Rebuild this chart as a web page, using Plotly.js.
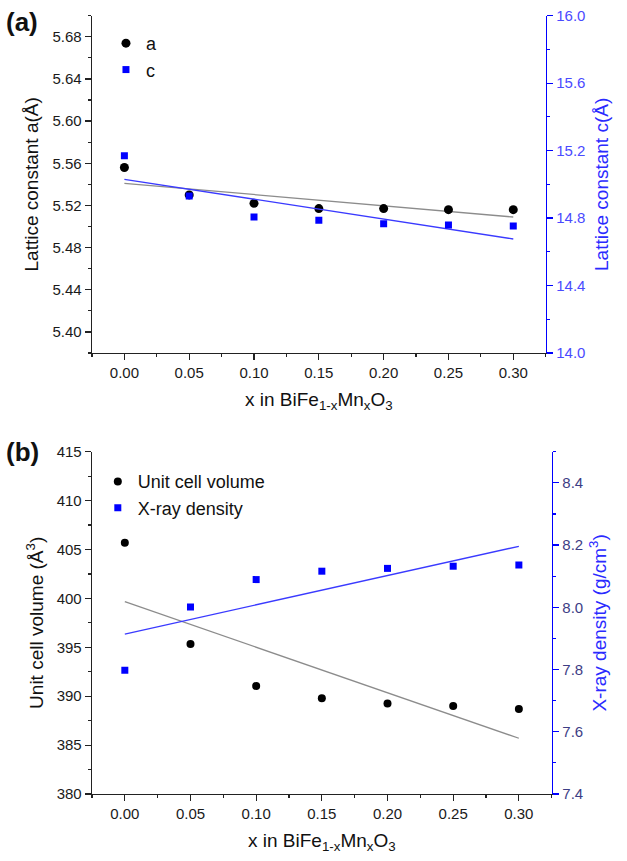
<!DOCTYPE html>
<html>
<head>
<meta charset="utf-8">
<script src="https://cdn.plot.ly/plotly-3.0.1.min.js"></script>
<style>html,body{margin:0;padding:0;background:#fff;}#chart{width:627px;height:861px;}</style>
</head>
<body>
<div id="chart"></div>
<script>
// ---- data ----
const xMn = [0.00, 0.05, 0.10, 0.15, 0.20, 0.25, 0.30];
const latticeA = [5.556, 5.530, 5.522, 5.517, 5.517, 5.516, 5.516];
const latticeC = [15.17, 14.931, 14.806, 14.787, 14.767, 14.759, 14.753];
const cellVolume = [405.7, 395.35, 391.04, 389.8, 389.26, 389.0, 388.7];
const xrayDensity = [7.798, 8.001, 8.089, 8.116, 8.125, 8.132, 8.136];
// linear-fit lines (end points)
const fitX = [0.00, 0.30];
const fitA = [5.541, 5.509];
const fitC = [15.03, 14.676];
const fitV = [399.66, 385.7];
const fitD = [7.914, 8.196];

const FONT = 'Liberation Sans, Arial, sans-serif';
const BLUE = '#0000ff';
const xTitle = 'x in BiFe<sub>1-x</sub>Mn<sub>x</sub>O<sub>3</sub>';

const traces = [
  {x: fitX, y: fitA, xaxis: 'x', yaxis: 'y', mode: 'lines', line: {color: '#8c8c8c', width: 1.3}, showlegend: false, hoverinfo: 'skip'},
  {x: fitX, y: fitC, xaxis: 'x', yaxis: 'y2', mode: 'lines', line: {color: '#3a3aff', width: 1.3}, showlegend: false, hoverinfo: 'skip'},
  {x: xMn, y: latticeA, xaxis: 'x', yaxis: 'y', mode: 'markers', name: 'a', legend: 'legend',
   marker: {symbol: 'circle', size: 9, color: '#000'}},
  {x: xMn, y: latticeC, xaxis: 'x', yaxis: 'y2', mode: 'markers', name: 'c', legend: 'legend',
   marker: {symbol: 'square', size: 7, color: BLUE}},

  {x: fitX, y: fitV, xaxis: 'x2', yaxis: 'y3', mode: 'lines', line: {color: '#8c8c8c', width: 1.3}, showlegend: false, hoverinfo: 'skip'},
  {x: fitX, y: fitD, xaxis: 'x2', yaxis: 'y4', mode: 'lines', line: {color: '#3a3aff', width: 1.3}, showlegend: false, hoverinfo: 'skip'},
  {x: xMn, y: cellVolume, xaxis: 'x2', yaxis: 'y3', mode: 'markers', name: 'Unit cell volume', legend: 'legend2',
   marker: {symbol: 'circle', size: 8, color: '#000'}},
  {x: xMn, y: xrayDensity, xaxis: 'x2', yaxis: 'y4', mode: 'markers', name: 'X-ray density', legend: 'legend2',
   marker: {symbol: 'square', size: 7, color: BLUE}}
];

const tickFont = {family: FONT, size: 15, color: '#1a1a1a'};
const titleFont = {family: FONT, size: 19, color: '#111'};

function xAx(domain, anchor) {
  return {
    domain: domain, anchor: anchor, range: [-0.025, 0.325],
    tickvals: [0, 0.05, 0.10, 0.15, 0.20, 0.25, 0.30],
    ticktext: ['0.00', '0.05', '0.10', '0.15', '0.20', '0.25', '0.30'],
    ticks: 'outside', ticklen: 6, tickwidth: 1.2, tickcolor: '#222',
    minor: {dtick: 0.025, tick0: 0, ticks: 'outside', ticklen: 3, tickwidth: 1.2, tickcolor: '#222'},
    showline: true, linecolor: '#222', linewidth: 1.3, showgrid: false, zeroline: false,
    tickfont: tickFont, title: {text: xTitle, font: titleFont, standoff: 12}
  };
}
function xTop(overlay, anchor) {
  return {
    overlaying: overlay, anchor: anchor, side: 'top', range: [-0.025, 0.325],
    tickvals: [0, 0.05, 0.10, 0.15, 0.20, 0.25, 0.30],
    ticks: 'inside', ticklen: 6, tickwidth: 1.2, tickcolor: '#222', showticklabels: false,
    minor: {dtick: 0.025, tick0: 0, ticks: 'inside', ticklen: 3, tickwidth: 1.2, tickcolor: '#222'},
    showline: true, linecolor: '#444', linewidth: 1.3, showgrid: false, zeroline: false
  };
}

const layout = {
  width: 627, height: 861,
  margin: {l: 0, r: 0, t: 0, b: 0},
  paper_bgcolor: '#fff', plot_bgcolor: '#fff',
  font: {family: FONT},
  xaxis: xAx([0.1467, 0.8703], 'y'),
  xaxis3: xTop('x', 'y'),
  yaxis: {
    domain: [0.590, 0.9818], anchor: 'x', range: [5.38, 5.70],
    tickvals: [5.40, 5.44, 5.48, 5.52, 5.56, 5.60, 5.64, 5.68],
    ticktext: ['5.40', '5.44', '5.48', '5.52', '5.56', '5.60', '5.64', '5.68'],
    ticks: 'outside', ticklen: 6, tickwidth: 1.2, tickcolor: '#222',
    minor: {dtick: 0.02, tick0: 5.40, ticks: 'outside', ticklen: 3, tickwidth: 1.2, tickcolor: '#222'},
    showline: true, linecolor: '#222', linewidth: 1.3, showgrid: false, zeroline: false,
    tickfont: tickFont, title: {text: 'Lattice constant a(Å)', font: titleFont, standoff: 8}
  },
  yaxis2: {
    overlaying: 'y', anchor: 'x', side: 'right', range: [14.0, 16.0],
    tickvals: [14.0, 14.4, 14.8, 15.2, 15.6, 16.0],
    ticktext: ['14.0', '14.4', '14.8', '15.2', '15.6', '16.0'],
    ticks: 'outside', ticklen: 6, tickwidth: 1.2, tickcolor: BLUE,
    minor: {dtick: 0.2, tick0: 14.0, ticks: 'outside', ticklen: 3, tickwidth: 1.2, tickcolor: BLUE},
    showline: true, linecolor: BLUE, linewidth: 1.6, showgrid: false, zeroline: false,
    tickfont: {family: FONT, size: 15, color: '#4a4aff'},
    title: {text: 'Lattice constant c(Å)', font: {family: FONT, size: 19, color: '#2a2aff'}, standoff: 10}
  },

  xaxis2: xAx([0.1467, 0.8799], 'y3'),
  xaxis4: xTop('x2', 'y3'),
  yaxis3: {
    domain: [0.0778, 0.4754], anchor: 'x2', range: [380, 415],
    tickvals: [380, 385, 390, 395, 400, 405, 410, 415],
    ticks: 'outside', ticklen: 6, tickwidth: 1.2, tickcolor: '#222',
    minor: {dtick: 2.5, tick0: 380, ticks: 'outside', ticklen: 3, tickwidth: 1.2, tickcolor: '#222'},
    showline: true, linecolor: '#222', linewidth: 1.3, showgrid: false, zeroline: false,
    tickfont: tickFont, title: {text: 'Unit cell volume (Å<sup>3</sup>)', font: titleFont, standoff: 8}
  },
  yaxis4: {
    overlaying: 'y3', anchor: 'x2', side: 'right', range: [7.4, 8.5],
    tickvals: [7.4, 7.6, 7.8, 8.0, 8.2, 8.4],
    ticktext: ['7.4', '7.6', '7.8', '8.0', '8.2', '8.4'],
    ticks: 'outside', ticklen: 6, tickwidth: 1.2, tickcolor: BLUE,
    minor: {dtick: 0.1, tick0: 7.4, ticks: 'outside', ticklen: 3, tickwidth: 1.2, tickcolor: BLUE},
    showline: true, linecolor: BLUE, linewidth: 1.6, showgrid: false, zeroline: false,
    tickfont: {family: FONT, size: 15, color: '#3d3d85'},
    title: {text: 'X-ray density (g/cm<sup>3</sup>)', font: {family: FONT, size: 19, color: '#2a2aff'}, standoff: 10}
  },

  legend: {x: 0.169, y: 0.971, xanchor: 'left', yanchor: 'top', bgcolor: 'rgba(0,0,0,0)',
           font: {family: FONT, size: 18, color: '#111'}, tracegroupgap: 0, itemwidth: 30},
  legend2: {x: 0.156, y: 0.462, xanchor: 'left', yanchor: 'top', bgcolor: 'rgba(0,0,0,0)',
            font: {family: FONT, size: 18, color: '#111'}, tracegroupgap: 0, itemwidth: 30},

  annotations: [
    {text: '<b>(a)</b>', xref: 'paper', yref: 'paper', x: 4/627, y: 1 - 22/861, xanchor: 'left', yanchor: 'middle',
     showarrow: false, font: {family: FONT, size: 26, color: '#111'}},
    {text: '<b>(b)</b>', xref: 'paper', yref: 'paper', x: 4/627, y: 1 - 452/861, xanchor: 'left', yanchor: 'middle',
     showarrow: false, font: {family: FONT, size: 26, color: '#111'}}
  ],
  showlegend: true
};

Plotly.newPlot('chart', traces, layout, {displayModeBar: false, staticPlot: true});
</script>
</body>
</html>
